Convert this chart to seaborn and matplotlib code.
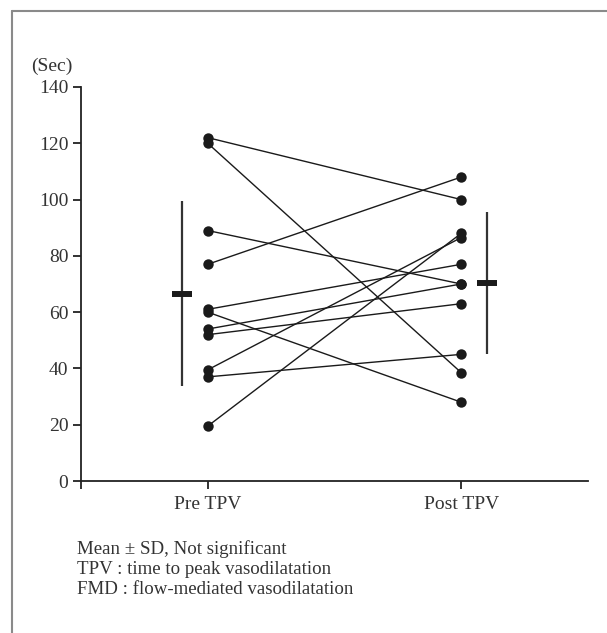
import matplotlib
matplotlib.use("Agg")
import matplotlib.pyplot as plt
from matplotlib.lines import Line2D
import numpy as np
import pandas as pd
import seaborn as sns

# values (sec), paired by subject
pre_tpv = [122, 120, 89, 77, 61, 60, 54, 52, 39.5, 37, 19.5]
post_tpv = [100, 38.5, 70, 108, 77, 28, 70, 63, 86.5, 45, 88]
phases = ["Pre TPV", "Post TPV"]
y_ticks = [0, 20, 40, 60, 80, 100, 120, 140]
notes = [
    "Mean \u00b1 SD, Not significant",
    "TPV : time to peak vasodilatation",
    "FMD : flow-mediated vasodilatation",
]

# long format for seaborn
n = len(pre_tpv)
df = pd.DataFrame({
    "subject": list(range(n)) * 2,
    "phase": [phases[0]] * n + [phases[1]] * n,
    "sec": pre_tpv + post_tpv,
})
df["pos"] = df["phase"].map({p: i for i, p in enumerate(phases)})

sns.set_style("white")
plt.rcParams["font.family"] = ["Liberation Serif", "DejaVu Serif"]
text_col = "#333333"

fig = plt.figure(figsize=(6.07, 6.33), dpi=100)
ax = fig.add_axes([0.1334, 0.2401, 0.9687 - 0.1334, 0.8626 - 0.2401])

# paired lines + dots
sns.lineplot(
    data=df, x="pos", y="sec", units="subject", estimator=None,
    color="#1a1a1a", linewidth=1.0, marker="o", markersize=7.5,
    markeredgewidth=0, ax=ax, legend=False,
)

# mean +- SD, offset outside the dots
means = [np.mean(pre_tpv), np.mean(post_tpv)]
sds = [np.std(pre_tpv, ddof=1), np.std(post_tpv, ddof=1)]
offsets = [-0.1, 0.1]
for i in range(2):
    ax.errorbar(
        i + offsets[i], means[i], yerr=sds[i], fmt="_", color="#1a1a1a",
        ecolor="#333333", elinewidth=1.6, capsize=0,
        markersize=14, markeredgewidth=4.3,
    )

ax.set_xlim(-0.5, 1.5)
ax.set_ylim(0, 140)
ax.set_yticks(y_ticks)
ax.set_yticklabels([str(t) for t in y_ticks])
ax.set_xticks([-0.5, 0, 1])
ax.set_xticklabels([""] + phases)
ax.set_xlabel("")
ax.set_ylabel("")

sns.despine(ax=ax)
for s in ["left", "bottom"]:
    ax.spines[s].set_linewidth(1.3)
    ax.spines[s].set_color("#222222")
ax.tick_params(direction="out", length=5.5, width=1.3, color="#222222",
               labelsize=14, labelcolor=text_col, pad=3.5)
ax.tick_params(axis="y", left=True)
ax.tick_params(axis="x", bottom=True, pad=5)

fig.text(31 / 607, 1 - 66 / 633, "(Sec)", fontsize=14, color=text_col,
         va="center", ha="left")

for k, t in enumerate(notes):
    fig.text(77 / 607, 1 - (549 + 20.5 * k) / 633, t, fontsize=13.6,
             color=text_col, va="center", ha="left")

# page frame (top and left edges)
frame_col = "#8a8a8a"
fig.add_artist(Line2D([11.5 / 607, 1], [1 - 11 / 633, 1 - 11 / 633],
                      transform=fig.transFigure, color=frame_col, linewidth=1.5))
fig.add_artist(Line2D([11.5 / 607, 11.5 / 607], [0, 1 - 11 / 633],
                      transform=fig.transFigure, color=frame_col, linewidth=1.5))

fig.savefig("out.png", dpi=100)
